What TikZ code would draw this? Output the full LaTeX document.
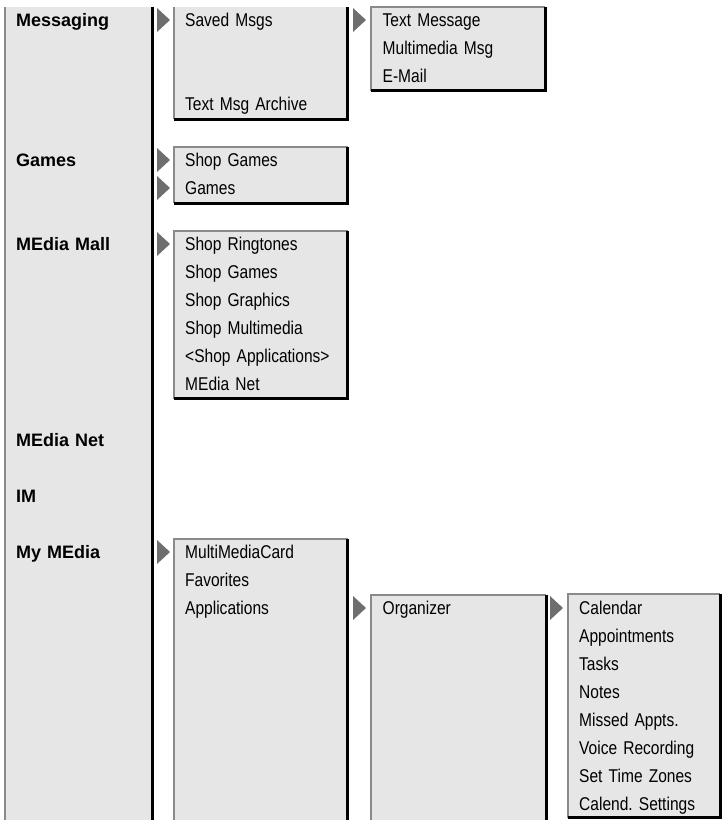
\documentclass[tikz,border=0pt]{standalone}
\usepackage{fontspec}
\setmainfont{Liberation Sans}
\newfontfamily\narrowsans[FakeStretch=0.84,WordSpace=0.75]{Liberation Sans}
\usetikzlibrary{positioning}
\definecolor{panelgray}{HTML}{E6E6E6}
\definecolor{edgegray}{HTML}{8A8A8A}
\definecolor{tipgray}{HTML}{6E6E6E}
\frenchspacing
\tikzset{
  panel/.style={fill=panelgray},
  lit/.style={draw=edgegray,line width=2pt},
  shade/.style={draw=black,line width=3pt},
  pointer/.style={fill=tipgray},
  item/.style={font=\narrowsans\fontsize{18.5}{20}\selectfont,text width=150pt,align=left,inner sep=0pt,text height=13.2pt,text depth=0pt},
  head/.style={item,font=\fontsize{18}{20}\selectfont\bfseries,text height=12.8pt},
}

\begin{document}
\begin{tikzpicture}[x=1pt,y=1pt,node distance=28pt,on grid]
  \useasboundingbox (0,0) rectangle (723,-820);
  % panels
  \fill[panel] (4.5,-7) rectangle (152,-820);
  \draw[lit] (4.5,-7) -- (4.5,-820);
  \draw[shade] (152,-7) -- (152,-820);
  \fill[panel] (174,-7) rectangle (347.5,-119);
  \draw[lit] (174,-7) -- (174,-119);
  \draw[shade] (347.5,-7) |- (174,-119);
  \fill[panel] (370.5,-7) rectangle (545,-90.5);
  \draw[lit] (370.5,-90.5) |- (545,-7);
  \draw[shade] (545,-7) |- (370.5,-90.5);
  \fill[panel] (174,-147) rectangle (347.5,-203);
  \draw[lit] (174,-203) |- (347.5,-147);
  \draw[shade] (347.5,-147) |- (174,-203);
  \fill[panel] (174,-231) rectangle (347.5,-398.5);
  \draw[lit] (174,-398.5) |- (347.5,-231);
  \draw[shade] (347.5,-231) |- (174,-398.5);
  \fill[panel] (174,-539) rectangle (347.5,-820);
  \draw[lit] (174,-820) |- (347.5,-539);
  \draw[shade] (347.5,-539) -- (347.5,-820);
  \fill[panel] (370.5,-594.5) rectangle (546,-820);
  \draw[lit] (370.5,-820) |- (546,-594.5);
  \draw[shade] (546,-594.5) -- (546,-820);
  \fill[panel] (568,-594) rectangle (720,-817.5);
  \draw[lit] (568,-817.5) |- (720,-594);
  \draw[shade] (720,-594) |- (568,-817.5);

  % main menu
  \node[head,anchor=west] (msg) at (16,-20) {Messaging};
  \node[head,below=140pt of msg] (games) {Games};
  \node[head,below=84pt of games] (mall) {MEdia Mall};
  \node[head,below=196pt of mall] (net) {MEdia Net};
  \node[head,below=56pt of net] (im) {IM};
  \node[head,below=56pt of im] (mymedia) {My MEdia};

  % second level
  \node[item,right=169pt of msg] (saved) {Saved Msgs};
  \node[item,below=84pt of saved] (archive) {Text Msg Archive};
  \node[item,right=169pt of games] (shopgames) {Shop Games};
  \node[item,below=of shopgames] (gamelist) {Games};
  \node[item,right=169pt of mall] (ringtones) {Shop Ringtones};
  \node[item,below=of ringtones] (mallgames) {Shop Games};
  \node[item,below=of mallgames] (graphics) {Shop Graphics};
  \node[item,below=of graphics] (multimedia) {Shop Multimedia};
  \node[item,below=of multimedia] (apps) {<Shop Applications>};
  \node[item,below=of apps] (mallnet) {MEdia Net};
  \node[item,right=169pt of mymedia] (mmc) {MultiMediaCard};
  \node[item,below=of mmc] (favorites) {Favorites};
  \node[item,below=of favorites] (applications) {Applications};

  % third level
  \node[item,right=197.5pt of saved] (textmsg) {Text Message};
  \node[item,below=of textmsg] (mms) {Multimedia Msg};
  \node[item,below=of mms] (email) {E-Mail};
  \node[item,right=197.5pt of applications] (organizer) {Organizer};

  % organizer
  \node[item,right=196.5pt of organizer] (calendar) {Calendar};
  \node[item,below=of calendar] (appts) {Appointments};
  \node[item,below=of appts] (tasks) {Tasks};
  \node[item,below=of tasks] (notes) {Notes};
  \node[item,below=of notes] (missed) {Missed Appts.};
  \node[item,below=of missed] (voice) {Voice Recording};
  \node[item,below=of voice] (zones) {Set Time Zones};
  \node[item,below=of zones] (calset) {Calend. Settings};

  % pointers
  \fill[pointer] ([xshift=-15pt]saved.west) -- ++(-13,12) -- ++(0,-24) -- cycle;
  \fill[pointer] ([xshift=-15pt]shopgames.west) -- ++(-13,12) -- ++(0,-24) -- cycle;
  \fill[pointer] ([xshift=-15pt]gamelist.west) -- ++(-13,12) -- ++(0,-24) -- cycle;
  \fill[pointer] ([xshift=-15pt]ringtones.west) -- ++(-13,12) -- ++(0,-24) -- cycle;
  \fill[pointer] ([xshift=-15pt]mmc.west) -- ++(-13,12) -- ++(0,-24) -- cycle;
  \fill[pointer] ([xshift=-16.5pt]textmsg.west) -- ++(-13,12) -- ++(0,-24) -- cycle;
  \fill[pointer] ([xshift=-16.5pt]organizer.west) -- ++(-13,12) -- ++(0,-24) -- cycle;
  \fill[pointer] ([xshift=-16pt]calendar.west) -- ++(-13,12) -- ++(0,-24) -- cycle;
\end{tikzpicture}
\end{document}
